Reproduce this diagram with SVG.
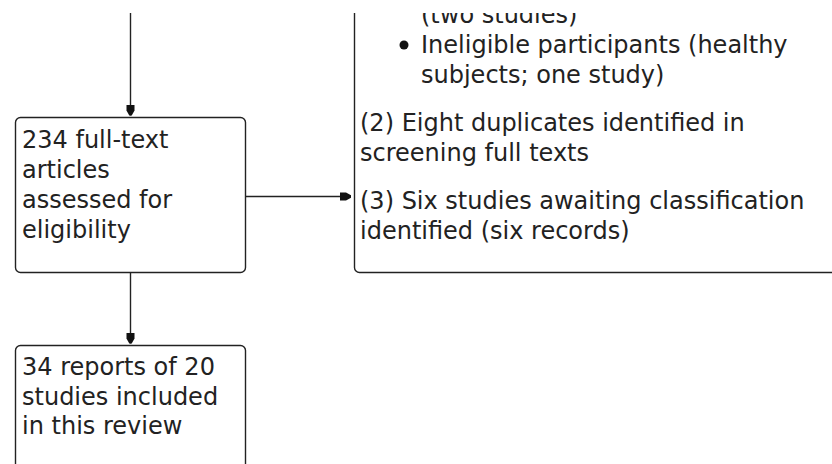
<svg xmlns="http://www.w3.org/2000/svg" width="832" height="464" viewBox="0 0 832 464">
<style>
.box{fill:#fff;stroke:#222;stroke-width:1.4}
.t{font-family:"DejaVu Sans",Verdana,sans-serif;font-size:24px;fill:#222}
.c{stroke:#222;stroke-width:1.4;fill:none}
</style>
<defs>
<clipPath id="view"><rect x="0" y="13" width="832" height="451"/></clipPath>
<marker id="ah" markerUnits="userSpaceOnUse" markerWidth="12" markerHeight="10" refX="11" refY="0" viewBox="0 -5 12 10" orient="auto">
<path d="M0,-4 L6,-4 L11,-1.2 L11,1.2 L6,4 L0,4 z" fill="#111"/>
</marker>
</defs>
<rect width="832" height="464" fill="#fff"/>
<g clip-path="url(#view)">
<g id="connectors">
<line class="c" x1="130.5" y1="0" x2="130.5" y2="115.5" marker-end="url(#ah)"/>
<line class="c" x1="246" y1="196.5" x2="351" y2="196.5" marker-end="url(#ah)"/>
<line class="c" x1="130.5" y1="273" x2="130.5" y2="343.5" marker-end="url(#ah)"/>
</g>
<g id="node-assessed">
<rect class="box" x="15.5" y="117.5" width="230" height="155" rx="5"/>
<text class="t" x="22" y="148">234 full-text</text>
<text class="t" x="22" y="178">articles</text>
<text class="t" x="22" y="208">assessed for</text>
<text class="t" x="22" y="238">eligibility</text>
</g>
<g id="node-excluded">
<rect class="box" x="354.5" y="-100" width="600" height="372.5" rx="5"/>
<text class="t" x="421" y="23">(two studies)</text>
<circle cx="404" cy="45" r="4.5" fill="#111"/>
<text class="t" x="421" y="53">Ineligible participants (healthy</text>
<text class="t" x="421" y="83">subjects; one study)</text>
<text class="t" x="360" y="131">(2) Eight duplicates identified in</text>
<text class="t" x="360" y="161">screening full texts</text>
<text class="t" x="360" y="209">(3) Six studies awaiting classification</text>
<text class="t" x="360" y="239">identified (six records)</text>
</g>
<g id="node-included">
<rect class="box" x="15.5" y="345.5" width="230" height="200" rx="5"/>
<text class="t" x="22" y="375">34 reports of 20</text>
<text class="t" x="22" y="405">studies included</text>
<text class="t" x="22" y="434">in this review</text>
</g>
</g>
</svg>
